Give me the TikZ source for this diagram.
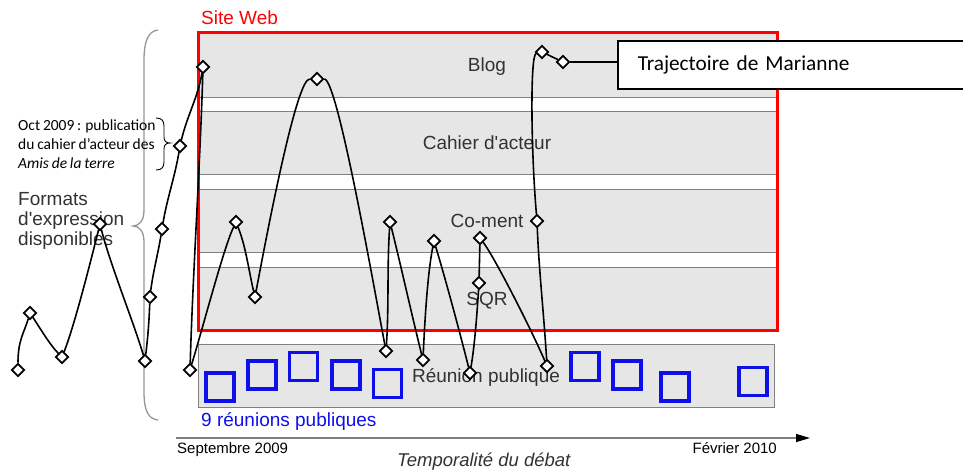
\documentclass[tikz,border=0pt]{standalone}
\usepackage{fontspec}
\setmainfont{Liberation Sans}
\newfontfamily\calfont[WordSpace=0.8]{Carlito}
\usetikzlibrary{shapes.geometric,arrows.meta}
\definecolor{bandgray}{RGB}{230,230,230}
\definecolor{bandline}{RGB}{128,128,128}
\definecolor{txtgray}{RGB}{50,50,50}
\definecolor{meetblue}{RGB}{15,15,235}
\definecolor{bracegray}{RGB}{150,150,150}
\definecolor{sitered}{RGB}{255,0,0}
\begin{document}
\begin{tikzpicture}[x=1pt,y=-1pt,
  band/.style={draw=bandline, line width=0.8pt, fill=bandgray, minimum width=578pt,
    minimum height=63pt, inner sep=0pt, text=txtgray, font=\fontsize{19}{22}\selectfont,
    text height=13.6pt, text depth=0pt},
  sitebox/.style={draw=sitered, line width=3pt, minimum width=579pt, minimum height=297pt, inner sep=0pt},
  meet/.style={draw=meetblue, line width=3.2pt, minimum width=28pt, minimum height=28pt, inner sep=0pt},
  dmd/.style={diamond, draw=black, fill=white, line width=1.7pt, minimum width=13pt, minimum height=13pt, inner sep=0pt},
  traj/.style={draw=black, line width=1.6pt},
  lbl/.style={font=\fontsize{19}{22}\selectfont, inner sep=0pt},
  small/.style={font=\fontsize{15}{18}\selectfont, inner sep=0pt},
  legendbox/.style={draw=black, line width=1.5pt, fill=white, anchor=west, minimum height=48pt,
    inner xsep=20pt, text width=318pt, align=left, font=\calfont\fontsize{21.3}{24}\selectfont},
  axisline/.style={draw=bandline, line width=1.3pt, -{Triangle[length=14pt,width=8pt,color=black]}}
]
\useasboundingbox (0,0) rectangle (963,470);

% bands
\node[band, minimum height=64pt] (blog) at (487,65) {Blog};
\node[band] (cahier) at (487,142.5) {Cahier d\textquotesingle acteur};
\node[band] (coment) at (487,220.5) {Co-ment};
\node[band] (sqr) at (487,298.5) {SQR};
\node[band, minimum width=576pt] (reunion) at (486,375.5) {R\'eunion publique};
\node[sitebox] (site) at (487.5,181.5) {};
\node[lbl, anchor=base west, text=sitered] (sitelbl) at (201,25) {Site Web};

% meetings
\foreach \n/\x/\y in {1/220/387, 2/262/375, 3/303.5/366.5, 4/346/375, 5/387.5/383.5,
                      6/585/366.5, 7/627/375, 8/675/387, 9/753/381.5}
  \node[meet] (r\n) at (\x,\y) {};
\node[lbl, anchor=base west, text=meetblue] (meetlbl) at (201,426) {9 r\'eunions publiques};

% axis
\coordinate (ax0) at (176,438);
\coordinate (ax1) at (810,438);
\draw[axisline] (ax0) -- (ax1);
\node[small, anchor=base west] (start) at (177,453) {Septembre 2009};
\node[small, anchor=base east] (end) at (777,453) {F\'evrier 2010};
\node[lbl, anchor=base west, font=\itshape\fontsize{18.5}{22}\selectfont, text=txtgray] (axlbl) at (397,466) {Temporalit\'e du d\'ebat};

% braces
\draw[bracegray, line width=1.3pt] (158,30) .. controls (148,31) and (144,42) .. (144,60) -- (144,210)
  .. controls (144,221) and (139,226) .. (133,226) .. controls (139,226) and (144,231) .. (144,242)
  -- (144,392) .. controls (144,410) and (148,419) .. (158,420);
\draw[black, line width=0.9pt] (156,118) .. controls (162,118) and (164,121) .. (164,126) -- (164,137)
  .. controls (164,141) and (166,143) .. (170,143) .. controls (166,143) and (164,145) .. (164,149)
  -- (164,162) .. controls (164,167) and (162,170) .. (156,170);

% left texts
\node[lbl, anchor=base west, text=txtgray] (formats) at (18,206) {Formats};
\node[lbl, anchor=base west, text=txtgray] (formats2) at (18,226) {d\textquotesingle expression};
\node[lbl, anchor=base west, text=txtgray] (formats3) at (18,246) {disponibles};
\node[anchor=base west, inner sep=0pt, font=\calfont\fontsize{15.5}{19}\selectfont] (oct1) at (18,131) {Oct 2009 : publication};
\node[anchor=base west, inner sep=0pt, font=\calfont\fontsize{15.5}{19}\selectfont] (oct2) at (18,150) {du cahier d’acteur des};
\node[anchor=base west, inner sep=0pt, font=\calfont\itshape\fontsize{15.5}{19}\selectfont] (oct3) at (18,169) {Amis de la terre};

% legend
\node[legendbox] (leg) at (617,65) {Trajectoire de Marianne};

% trajectory points
\foreach \n/\x/\y in {1/18/370, 2/30/313, 3/62/357, 4/100/224, 5/145/361, 6/150/297,
                      7/162/229, 8/180/146, 9/203/67, 10/190/370, 11/236/222, 12/255/297,
                      13/317/79, 14/386/351, 15/390/222, 16/423/360, 17/434/241, 18/470/373,
                      19/479/283, 20/480/238, 21/547/366, 22/537/221, 23/542/52, 24/563/62}
  \node[dmd] (d\n) at (\x,\y) {};

% trajectory
\draw[traj] (d1) .. controls +(0,-30) and +(-6,20) .. (d2);
\draw[traj] (d2) .. controls +(10,15) and +(-12,-12) .. (d3);
\draw[traj] (d3) .. controls +(12,-30) and +(-10,40) .. (d4);
\draw[traj] (d4) .. controls +(10,40) and +(-10,-35) .. (d5);
\draw[traj] (d5) .. controls +(3,-25) and +(-1,25) .. (d6);
\draw[traj] (d6) .. controls +(3,-25) and +(-4,25) .. (d7);
\draw[traj] (d7) .. controls +(5,-30) and +(-5,30) .. (d8);
\draw[traj] (d8) .. controls +(7,-30) and +(-5,30) .. (d9);
\draw[traj] (d9) .. controls +(-3,100) and +(3,-100) .. (d10);
\draw[traj] (d10) .. controls +(15,-50) and +(-12,25) .. (d11);
\draw[traj] (d11) .. controls +(10,25) and +(-6,-25) .. (d12);
\draw[traj] (d12) .. controls +(15,-80) and +(-20,0) .. (d13);
\draw[traj] (d13) .. controls +(20,0) and +(-15,-80) .. (d14);
\draw[traj] (d14) .. controls +(3,-45) and +(-3,45) .. (d15);
\draw[traj] (d15) .. controls +(10,40) and +(-10,-40) .. (d16);
\draw[traj] (d16) .. controls +(2,-45) and +(-6,30) .. (d17);
\draw[traj] (d17) .. controls +(12,40) and +(-10,-40) .. (d18);
\draw[traj] (d18) .. controls +(5,-30) and +(-2,30) .. (d19);
\draw[traj] (d19) -- (d20);
\draw[traj] (d20) .. controls +(15,20) and +(-15,-35) .. (d21);
\draw[traj] (d21) .. controls +(-3,-50) and +(2,50) .. (d22);
\draw[traj] (d22) .. controls +(-6,-70) and +(-12,3) .. (d23);
\draw[traj] (d23) -- (d24);
\draw[traj, line width=1.2pt] (d24) -- (d24 -| leg.west);
\end{tikzpicture}
\end{document}
